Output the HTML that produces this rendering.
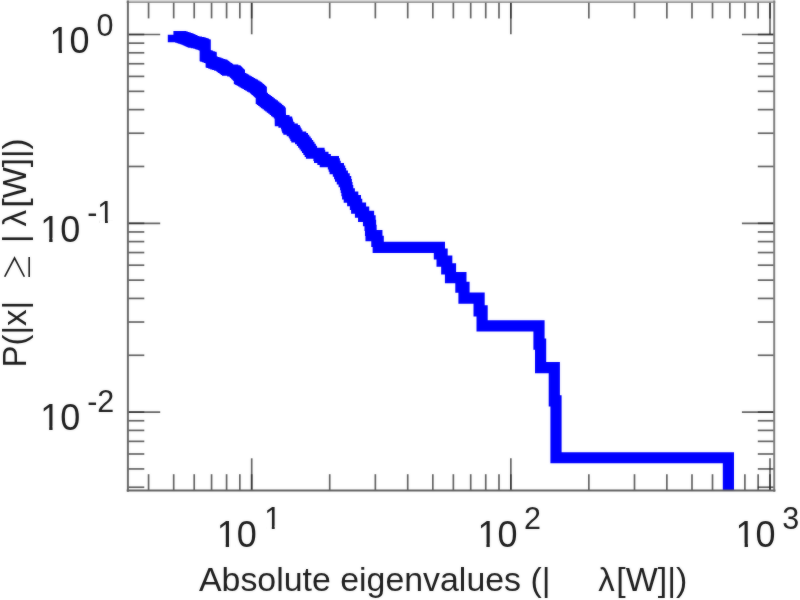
<!DOCTYPE html>
<html>
<head>
<meta charset="utf-8">
<title>Absolute eigenvalue distribution</title>
<style>
html, body { margin: 0; padding: 0; background: #ffffff; }
body { width: 800px; height: 600px; overflow: hidden; }
svg { display: block; }
text { font-family: "Liberation Sans", sans-serif; fill: #1c1c1c; }
</style>
</head>
<body>
<svg width="800" height="600" viewBox="0 0 800 600">
<defs>
<filter id="soft" filterUnits="userSpaceOnUse" x="0" y="0" width="800" height="600" color-interpolation-filters="sRGB">
<feGaussianBlur in="SourceGraphic" stdDeviation="0.8" result="b"/>
<feComposite in="SourceGraphic" in2="b" operator="arithmetic" k1="0" k2="0.7" k3="0.3" k4="0"/>
</filter>
<clipPath id="plotclip"><rect x="127.9" y="2.0" width="646.3000000000001" height="488.20"/></clipPath>
</defs>
<g filter="url(#soft)">
<rect x="-20" y="-20" width="840" height="640" fill="#ffffff"/>
<g stroke="#202020" stroke-opacity="0.7" stroke-width="1.7" fill="none">
<line x1="148.57" y1="2.00" x2="148.57" y2="18.40"/>
<line x1="148.57" y1="490.60" x2="148.57" y2="474.20"/>
<line x1="173.69" y1="2.00" x2="173.69" y2="18.40"/>
<line x1="173.69" y1="490.60" x2="173.69" y2="474.20"/>
<line x1="194.21" y1="2.00" x2="194.21" y2="18.40"/>
<line x1="194.21" y1="490.60" x2="194.21" y2="474.20"/>
<line x1="211.56" y1="2.00" x2="211.56" y2="18.40"/>
<line x1="211.56" y1="490.60" x2="211.56" y2="474.20"/>
<line x1="226.59" y1="2.00" x2="226.59" y2="18.40"/>
<line x1="226.59" y1="490.60" x2="226.59" y2="474.20"/>
<line x1="239.84" y1="2.00" x2="239.84" y2="18.40"/>
<line x1="239.84" y1="490.60" x2="239.84" y2="474.20"/>
<line x1="251.70" y1="2.00" x2="251.70" y2="18.40"/>
<line x1="251.70" y1="490.60" x2="251.70" y2="474.20"/>
<line x1="251.70" y1="2.00" x2="251.70" y2="34.30"/>
<line x1="251.70" y1="490.60" x2="251.70" y2="458.30"/>
<line x1="329.71" y1="2.00" x2="329.71" y2="18.40"/>
<line x1="329.71" y1="490.60" x2="329.71" y2="474.20"/>
<line x1="375.35" y1="2.00" x2="375.35" y2="18.40"/>
<line x1="375.35" y1="490.60" x2="375.35" y2="474.20"/>
<line x1="407.72" y1="2.00" x2="407.72" y2="18.40"/>
<line x1="407.72" y1="490.60" x2="407.72" y2="474.20"/>
<line x1="432.84" y1="2.00" x2="432.84" y2="18.40"/>
<line x1="432.84" y1="490.60" x2="432.84" y2="474.20"/>
<line x1="453.36" y1="2.00" x2="453.36" y2="18.40"/>
<line x1="453.36" y1="490.60" x2="453.36" y2="474.20"/>
<line x1="470.71" y1="2.00" x2="470.71" y2="18.40"/>
<line x1="470.71" y1="490.60" x2="470.71" y2="474.20"/>
<line x1="485.74" y1="2.00" x2="485.74" y2="18.40"/>
<line x1="485.74" y1="490.60" x2="485.74" y2="474.20"/>
<line x1="498.99" y1="2.00" x2="498.99" y2="18.40"/>
<line x1="498.99" y1="490.60" x2="498.99" y2="474.20"/>
<line x1="510.85" y1="2.00" x2="510.85" y2="18.40"/>
<line x1="510.85" y1="490.60" x2="510.85" y2="474.20"/>
<line x1="510.85" y1="2.00" x2="510.85" y2="34.30"/>
<line x1="510.85" y1="490.60" x2="510.85" y2="458.30"/>
<line x1="588.86" y1="2.00" x2="588.86" y2="18.40"/>
<line x1="588.86" y1="490.60" x2="588.86" y2="474.20"/>
<line x1="634.50" y1="2.00" x2="634.50" y2="18.40"/>
<line x1="634.50" y1="490.60" x2="634.50" y2="474.20"/>
<line x1="666.87" y1="2.00" x2="666.87" y2="18.40"/>
<line x1="666.87" y1="490.60" x2="666.87" y2="474.20"/>
<line x1="691.99" y1="2.00" x2="691.99" y2="18.40"/>
<line x1="691.99" y1="490.60" x2="691.99" y2="474.20"/>
<line x1="712.51" y1="2.00" x2="712.51" y2="18.40"/>
<line x1="712.51" y1="490.60" x2="712.51" y2="474.20"/>
<line x1="729.86" y1="2.00" x2="729.86" y2="18.40"/>
<line x1="729.86" y1="490.60" x2="729.86" y2="474.20"/>
<line x1="744.89" y1="2.00" x2="744.89" y2="18.40"/>
<line x1="744.89" y1="490.60" x2="744.89" y2="474.20"/>
<line x1="758.14" y1="2.00" x2="758.14" y2="18.40"/>
<line x1="758.14" y1="490.60" x2="758.14" y2="474.20"/>
<line x1="770.00" y1="2.00" x2="770.00" y2="18.40"/>
<line x1="770.00" y1="490.60" x2="770.00" y2="474.20"/>
<line x1="770.00" y1="2.00" x2="770.00" y2="34.30"/>
<line x1="770.00" y1="490.60" x2="770.00" y2="458.30"/>
<line x1="127.90" y1="34.50" x2="144.30" y2="34.50"/>
<line x1="774.20" y1="34.50" x2="757.80" y2="34.50"/>
<line x1="127.90" y1="34.50" x2="160.20" y2="34.50"/>
<line x1="774.20" y1="34.50" x2="741.90" y2="34.50"/>
<line x1="127.90" y1="223.30" x2="144.30" y2="223.30"/>
<line x1="774.20" y1="223.30" x2="757.80" y2="223.30"/>
<line x1="127.90" y1="223.30" x2="160.20" y2="223.30"/>
<line x1="774.20" y1="223.30" x2="741.90" y2="223.30"/>
<line x1="127.90" y1="166.47" x2="144.30" y2="166.47"/>
<line x1="774.20" y1="166.47" x2="757.80" y2="166.47"/>
<line x1="127.90" y1="133.22" x2="144.30" y2="133.22"/>
<line x1="774.20" y1="133.22" x2="757.80" y2="133.22"/>
<line x1="127.90" y1="109.63" x2="144.30" y2="109.63"/>
<line x1="774.20" y1="109.63" x2="757.80" y2="109.63"/>
<line x1="127.90" y1="91.33" x2="144.30" y2="91.33"/>
<line x1="774.20" y1="91.33" x2="757.80" y2="91.33"/>
<line x1="127.90" y1="76.39" x2="144.30" y2="76.39"/>
<line x1="774.20" y1="76.39" x2="757.80" y2="76.39"/>
<line x1="127.90" y1="63.75" x2="144.30" y2="63.75"/>
<line x1="774.20" y1="63.75" x2="757.80" y2="63.75"/>
<line x1="127.90" y1="52.80" x2="144.30" y2="52.80"/>
<line x1="774.20" y1="52.80" x2="757.80" y2="52.80"/>
<line x1="127.90" y1="43.14" x2="144.30" y2="43.14"/>
<line x1="774.20" y1="43.14" x2="757.80" y2="43.14"/>
<line x1="127.90" y1="412.10" x2="144.30" y2="412.10"/>
<line x1="774.20" y1="412.10" x2="757.80" y2="412.10"/>
<line x1="127.90" y1="412.10" x2="160.20" y2="412.10"/>
<line x1="774.20" y1="412.10" x2="741.90" y2="412.10"/>
<line x1="127.90" y1="355.27" x2="144.30" y2="355.27"/>
<line x1="774.20" y1="355.27" x2="757.80" y2="355.27"/>
<line x1="127.90" y1="322.02" x2="144.30" y2="322.02"/>
<line x1="774.20" y1="322.02" x2="757.80" y2="322.02"/>
<line x1="127.90" y1="298.43" x2="144.30" y2="298.43"/>
<line x1="774.20" y1="298.43" x2="757.80" y2="298.43"/>
<line x1="127.90" y1="280.13" x2="144.30" y2="280.13"/>
<line x1="774.20" y1="280.13" x2="757.80" y2="280.13"/>
<line x1="127.90" y1="265.19" x2="144.30" y2="265.19"/>
<line x1="774.20" y1="265.19" x2="757.80" y2="265.19"/>
<line x1="127.90" y1="252.55" x2="144.30" y2="252.55"/>
<line x1="774.20" y1="252.55" x2="757.80" y2="252.55"/>
<line x1="127.90" y1="241.60" x2="144.30" y2="241.60"/>
<line x1="774.20" y1="241.60" x2="757.80" y2="241.60"/>
<line x1="127.90" y1="231.94" x2="144.30" y2="231.94"/>
<line x1="774.20" y1="231.94" x2="757.80" y2="231.94"/>
<line x1="127.90" y1="487.23" x2="144.30" y2="487.23"/>
<line x1="774.20" y1="487.23" x2="757.80" y2="487.23"/>
<line x1="127.90" y1="468.93" x2="144.30" y2="468.93"/>
<line x1="774.20" y1="468.93" x2="757.80" y2="468.93"/>
<line x1="127.90" y1="453.99" x2="144.30" y2="453.99"/>
<line x1="774.20" y1="453.99" x2="757.80" y2="453.99"/>
<line x1="127.90" y1="441.35" x2="144.30" y2="441.35"/>
<line x1="774.20" y1="441.35" x2="757.80" y2="441.35"/>
<line x1="127.90" y1="430.40" x2="144.30" y2="430.40"/>
<line x1="774.20" y1="430.40" x2="757.80" y2="430.40"/>
<line x1="127.90" y1="420.74" x2="144.30" y2="420.74"/>
<line x1="774.20" y1="420.74" x2="757.80" y2="420.74"/>
</g>
<g clip-path="url(#plotclip)">
<path d="M173.40,34.74 L173.40,36.64 L180.79,36.64 L180.79,37.13 L182.30,37.13 L182.30,37.61 L183.83,37.61 L183.83,38.10 L185.36,38.10 L185.36,38.59 L186.91,38.59 L186.91,39.09 L188.13,39.09 L188.13,39.59 L189.20,39.59 L189.20,40.09 L190.28,40.09 L190.28,40.59 L191.36,40.59 L191.36,41.10 L192.45,41.10 L192.45,41.61 L193.75,41.61 L193.75,42.13 L196.33,42.13 L196.33,42.64 L198.92,42.64 L198.92,43.17 L200.58,43.17 L200.58,43.69 L202.03,43.69 L202.03,44.22 L203.49,44.22 L203.49,44.75 L204.96,44.75 L204.96,45.28 L205.20,45.28 L205.20,55.54 L205.88,55.54 L205.88,56.15 L207.55,56.15 L207.55,56.77 L209.23,56.77 L209.23,57.39 L210.92,57.39 L210.92,58.01 L211.20,58.01 L211.20,61.85 L212.02,61.85 L212.02,62.51 L213.93,62.51 L213.93,63.18 L215.86,63.18 L215.86,63.85 L217.80,63.85 L217.80,64.52 L219.76,64.52 L219.76,65.20 L221.74,65.20 L221.74,65.89 L222.76,65.89 L222.76,66.58 L223.71,66.58 L223.71,67.28 L224.66,67.28 L224.66,67.98 L225.62,67.98 L225.62,68.69 L226.59,68.69 L226.59,69.41 L227.56,69.41 L227.56,70.13 L232.75,70.13 L232.75,70.86 L235.03,70.86 L235.03,71.59 L235.77,71.59 L235.77,72.34 L236.51,72.34 L236.51,73.08 L237.26,73.08 L237.26,73.84 L238.02,73.84 L238.02,74.60 L238.79,74.60 L238.79,75.37 L239.40,75.37 L239.40,77.73 L239.45,77.73 L239.45,78.53 L240.84,78.53 L240.84,79.34 L242.24,79.34 L242.24,80.15 L243.66,80.15 L243.66,80.98 L245.09,80.98 L245.09,81.81 L246.54,81.81 L246.54,82.65 L248.00,82.65 L248.00,83.50 L249.47,83.50 L249.47,84.36 L250.97,84.36 L250.97,85.22 L252.47,85.22 L252.47,86.10 L254.00,86.10 L254.00,86.99 L255.54,86.99 L255.54,87.88 L256.60,87.88 L256.60,88.79 L257.63,88.79 L257.63,89.71 L258.67,89.71 L258.67,90.63 L259.72,90.63 L259.72,91.57 L260.78,91.57 L260.78,92.52 L261.30,92.52 L261.30,98.45 L262.43,98.45 L262.43,99.48 L263.79,99.48 L263.79,100.52 L265.17,100.52 L265.17,101.58 L266.56,101.58 L266.56,102.65 L267.98,102.65 L267.98,103.74 L269.41,103.74 L269.41,104.84 L270.86,104.84 L270.86,105.96 L272.33,105.96 L272.33,107.09 L273.82,107.09 L273.82,108.23 L275.23,108.23 L275.23,109.40 L276.59,109.40 L276.59,110.58 L277.97,110.58 L277.97,111.77 L279.37,111.77 L279.37,112.99 L280.21,112.99 L280.21,114.22 L280.25,114.22 L280.25,115.47 L280.28,115.47 L280.28,116.74 L280.31,116.74 L280.31,118.04 L280.35,118.04 L280.35,119.35 L280.38,119.35 L280.38,120.68 L283.98,120.68 L283.98,122.04 L286.56,122.04 L286.56,123.41 L286.97,123.41 L286.97,124.82 L287.39,124.82 L287.39,126.24 L287.81,126.24 L287.81,127.69 L288.90,127.69 L288.90,129.17 L292.27,129.17 L292.27,130.68 L294.27,130.68 L294.27,132.21 L295.12,132.21 L295.12,133.77 L296.00,133.77 L296.00,135.36 L296.89,135.36 L296.89,136.99 L300.64,136.99 L300.64,138.64 L302.38,138.64 L302.38,140.33 L303.70,140.33 L303.70,142.06 L305.06,142.06 L305.06,143.82 L306.36,143.82 L306.36,145.62 L307.62,145.62 L307.62,147.47 L308.91,147.47 L308.91,149.35 L310.24,149.35 L310.24,151.28 L311.50,151.28 L311.50,153.26 L318.98,153.26 L318.98,155.28 L319.63,155.28 L319.63,157.36 L322.92,157.36 L322.92,159.49 L325.29,159.49 L325.29,161.67 L333.41,161.67 L333.41,163.92 L334.28,163.92 L334.28,166.23 L335.16,166.23 L335.16,168.61 L338.39,168.61 L338.39,171.06 L339.66,171.06 L339.66,173.58 L340.61,173.58 L340.61,176.18 L342.34,176.18 L342.34,178.87 L344.17,178.87 L344.17,181.65 L345.64,181.65 L345.64,184.53 L346.30,184.53 L346.30,187.51 L346.97,187.51 L346.97,190.60 L347.67,190.60 L347.67,193.82 L349.29,193.82 L349.29,197.17 L352.71,197.17 L352.71,200.66 L355.43,200.66 L355.43,204.30 L356.68,204.30 L356.68,208.12 L360.51,208.12 L360.51,212.12 L363.64,212.12 L363.64,216.32 L368.53,216.32 L368.53,220.76 L370.06,220.76 L370.06,225.44 L370.54,225.44 L370.54,230.41 L371.05,230.41 L371.05,235.70 L376.85,235.70 L376.85,241.36 L378.22,241.36 L378.22,247.44 L439.40,247.44 L439.40,254.00 L442.10,254.00 L442.10,261.14 L446.75,261.14 L446.75,268.95 L450.50,268.95 L450.50,277.59 L460.90,277.59 L460.90,287.25 L464.00,287.25 L464.00,298.20 L479.10,298.20 L479.10,310.84 L482.10,310.84 L482.10,325.79 L539.00,325.79 L539.00,344.08 L540.60,344.08 L540.60,367.67 L554.30,367.67 L554.30,400.92 L556.00,400.92 L556.00,457.75 L728.40,457.75 L728.40,510.60" fill="none" stroke="#0000ff" stroke-width="11.2" stroke-linejoin="miter" stroke-linecap="butt"/>
</g>
<g fill="none">
<rect x="126.60" y="0" width="648.70" height="1.5" fill="#d6d6d6"/>
<rect x="126.60" y="1.4" width="648.70" height="1.5" fill="#8e8e8e"/>
<line x1="127.9" y1="0.5" x2="127.9" y2="491.8" stroke="#686868" stroke-width="2.0"/>
<line x1="774.2" y1="0.5" x2="774.2" y2="491.8" stroke="#7c7c7c" stroke-width="2.0"/>
<line x1="126.7" y1="490.6" x2="775.4000000000001" y2="490.6" stroke="#606060" stroke-width="2.0"/>
</g>
<g>
<text x="216.7" y="547.3" font-size="36">10</text>
<rect x="218.86" y="543.52" width="6.84" height="4.38" fill="#ffffff"/><rect x="229.05" y="543.52" width="6.48" height="4.38" fill="#ffffff"/>
<text x="264.2" y="529.0" font-size="30.5">1</text>
<rect x="266.03" y="525.80" width="5.79" height="3.80" fill="#ffffff"/><rect x="274.66" y="525.80" width="5.49" height="3.80" fill="#ffffff"/>
<text x="477.4" y="547.3" font-size="36">10</text>
<rect x="479.56" y="543.52" width="6.84" height="4.38" fill="#ffffff"/><rect x="489.75" y="543.52" width="6.48" height="4.38" fill="#ffffff"/>
<text x="524.0" y="529.0" font-size="30.5">2</text>
<text x="735.6" y="547.3" font-size="36">10</text>
<rect x="737.76" y="543.52" width="6.84" height="4.38" fill="#ffffff"/><rect x="747.95" y="543.52" width="6.48" height="4.38" fill="#ffffff"/>
<text x="782.3" y="529.0" font-size="30.5">3</text>
<text x="49.6" y="53.4" font-size="36">10</text>
<rect x="51.76" y="49.62" width="6.84" height="4.38" fill="#ffffff"/><rect x="61.95" y="49.62" width="6.48" height="4.38" fill="#ffffff"/>
<text x="96.5" y="35.8" font-size="30.5">0</text>
<text x="40.2" y="241.6" font-size="36">10</text>
<rect x="42.36" y="237.82" width="6.84" height="4.38" fill="#ffffff"/><rect x="52.55" y="237.82" width="6.48" height="4.38" fill="#ffffff"/>
<text x="87.2" y="223.3" font-size="30.5">-1</text>
<rect x="99.19" y="220.10" width="5.79" height="3.80" fill="#ffffff"/><rect x="107.82" y="220.10" width="5.49" height="3.80" fill="#ffffff"/>
<text x="40.2" y="430.4" font-size="36">10</text>
<rect x="42.36" y="426.62" width="6.84" height="4.38" fill="#ffffff"/><rect x="52.55" y="426.62" width="6.48" height="4.38" fill="#ffffff"/>
<text x="87.2" y="412.0" font-size="30.5">-2</text>
<text x="199" y="591" font-size="33" textLength="351.5" lengthAdjust="spacingAndGlyphs">Absolute eigenvalues (|</text>
<text x="598.3" y="591" font-size="33">λ</text>
<text x="616.3" y="591" font-size="33" textLength="71" lengthAdjust="spacingAndGlyphs">[W]|)</text>
<g transform="translate(26.3,365) rotate(-90)">
<text x="-2.5" y="0" font-size="33">P(|x|</text>
<text transform="translate(84.5,4.9) scale(1,1.27)" x="0" y="0" font-size="27" style="font-family:'Noto Sans CJK JP','Liberation Sans',sans-serif;font-weight:300">≥</text>
<text x="122" y="0" font-size="33">|</text>
<text x="138.5" y="0" font-size="33">λ</text>
<text x="157.5" y="0" font-size="33">[W]|)</text>
</g>
</g>
</g>
</svg>
</body>
</html>
